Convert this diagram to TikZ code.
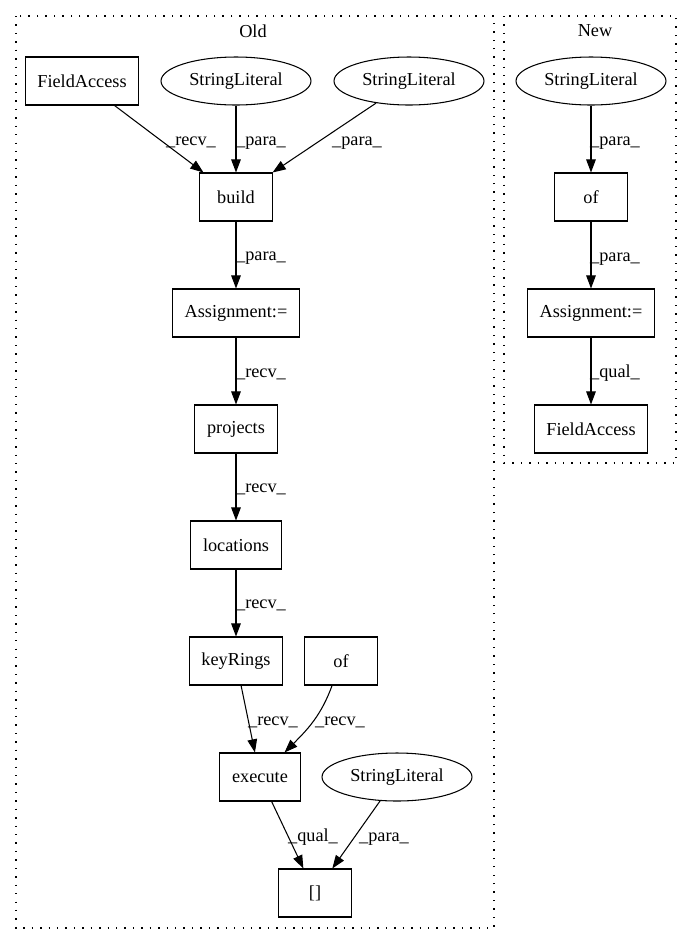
\documentclass[tikz,border=0pt]{standalone}
\usepackage{fontspec}
\setmainfont{Liberation Serif}
\usetikzlibrary{shapes.geometric,arrows.meta}
\begin{document}
\begin{tikzpicture}[
  x=0.02cm, y=-0.02cm,
  every node/.style={font=\fontsize{10.4}{12}\selectfont},
  op/.style={rectangle, draw, line width=0.6pt, minimum width=1.46cm, minimum height=0.96cm, inner xsep=7pt},
  lit/.style={ellipse, draw, line width=0.6pt, minimum width=3cm, minimum height=0.96cm, inner sep=1pt},
  cluster/.style={draw, line width=0.6pt, dash pattern=on 0.8pt off 4pt},
  title/.style={inner sep=1pt},
  lbl/.style={inner sep=0pt, anchor=base},
  arrow/.style={draw, line width=0.6pt, -{Triangle[length=7.5pt, width=5.5pt]}}]

  \useasboundingbox (0,0) rectangle (692,944);

  % clusters
  \draw[cluster] (16,16) rectangle (494,928);
  \draw[cluster] (504,16) rectangle (676,463);
  \node[title] (old) at (253,31) {Old};
  \node[title] (new) at (595,31) {New};

  % vertices, old
  \node[op]  (fa)        at (82,81)   {FieldAccess};
  \node[lit] (sl1)       at (236,81)  {StringLiteral};
  \node[lit] (sl2)       at (409,81)  {StringLiteral};
  \node[op]  (build)     at (236,197) {build};
  \node[op]  (assign)    at (236,313) {Assignment:=};
  \node[op]  (projects)  at (236,429) {projects};
  \node[op]  (locations) at (236,545) {locations};
  \node[op]  (keyrings)  at (236,661) {keyRings};
  \node[op]  (of)        at (341,661) {of};
  \node[op]  (execute)   at (260,777) {execute};
  \node[lit] (sl3)       at (397,777) {StringLiteral};
  \node[op]  (index)     at (315,893) {[]};

  % vertices, new
  \node[lit] (nsl)    at (591,81)  {StringLiteral};
  \node[op]  (nof)    at (591,197) {of};
  \node[op]  (nassign) at (591,313) {Assignment:=};
  \node[op]  (nfa)    at (591,429) {FieldAccess};

  % arrows
  \draw[arrow] (fa) -- (build);
  \draw[arrow] (sl1) -- (build);
  \draw[arrow] (sl2) -- (build);
  \draw[arrow] (build) -- (assign);
  \draw[arrow] (assign) -- (projects);
  \draw[arrow] (projects) -- (locations);
  \draw[arrow] (locations) -- (keyrings);
  \draw[arrow] (keyrings) -- (execute);
  \draw[arrow] (of) to[out=-110, in=45] (execute);
  \draw[arrow] (execute) -- (index);
  \draw[arrow] (sl3) -- (index);
  \draw[arrow] (nsl) -- (nof);
  \draw[arrow] (nof) -- (nassign);
  \draw[arrow] (nassign) -- (nfa);

  % edge labels
  \node[lbl] (l1)  at (191,145) {\_recv\_};
  \node[lbl] (l2)  at (261,145) {\_para\_};
  \node[lbl] (l3)  at (357,145) {\_para\_};
  \node[lbl] (l4)  at (261,260) {\_para\_};
  \node[lbl] (l5)  at (261,377) {\_recv\_};
  \node[lbl] (l6)  at (261,492) {\_recv\_};
  \node[lbl] (l7)  at (261,608) {\_recv\_};
  \node[lbl] (l8)  at (273,725) {\_recv\_};
  \node[lbl] (l9)  at (340,725) {\_recv\_};
  \node[lbl] (l10) at (313,841) {\_qual\_};
  \node[lbl] (l11) at (384,841) {\_para\_};
  \node[lbl] (n1)  at (615,145) {\_para\_};
  \node[lbl] (n2)  at (615,261) {\_para\_};
  \node[lbl] (n3)  at (615,377) {\_qual\_};
\end{tikzpicture}
\end{document}
